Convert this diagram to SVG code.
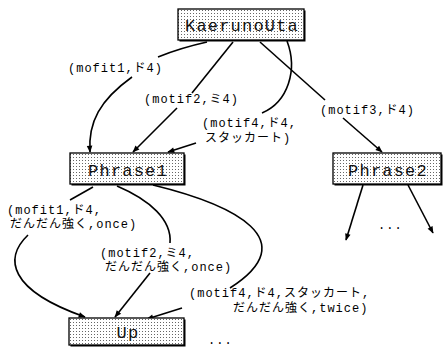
<svg xmlns="http://www.w3.org/2000/svg" width="443" height="353" viewBox="0 0 443 353">
  <style>
    .box { fill: url(#dots); stroke: #000; stroke-width: 1.3; }
    .shadow { fill: #000; }
    .name { font-family: "Liberation Mono", "Courier New", monospace; font-size: 17px; letter-spacing: 1.2px; fill: #111; text-anchor: middle; }
    .lbl { font-family: "Liberation Mono", "Noto Sans CJK JP", monospace; font-size: 12px; letter-spacing: 1px; fill: #000; }
    .edge { fill: none; stroke: #000; stroke-width: 1.6; }
  </style>
  <defs>
    <pattern id="dots" width="3" height="3" patternUnits="userSpaceOnUse">
      <rect width="3" height="3" fill="#fff"/>
      <rect x="1" y="1" width="1" height="1" fill="#666"/>
    </pattern>
    <marker id="arrow" viewBox="0 0 10 10" refX="9" refY="5" markerWidth="8" markerHeight="7" orient="auto" markerUnits="userSpaceOnUse">
      <path d="M0,1 L10,5 L0,9 Z" fill="#000"/>
    </marker>
  </defs>

  <rect width="443" height="353" fill="#fff"/>

  <!-- connectors -->
  <g id="connectors">
    <!-- KaerunoUta -> Phrase1 (mofit1) -->
    <path class="edge" d="M207,42 Q180,48 158,57"/>
    <path class="edge" d="M132,77 C100,100 88,122 90,152" marker-end="url(#arrow)"/>
    <!-- KaerunoUta -> Phrase1 (motif2) -->
    <path class="edge" d="M233,42 L192,93"/>
    <path class="edge" d="M177,108 L133,152" marker-end="url(#arrow)"/>
    <!-- KaerunoUta -> Phrase1 (motif4) -->
    <path class="edge" d="M287,41 C298,70 288,102 262,113"/>
    <path class="edge" d="M196,143 L168,152" marker-end="url(#arrow)"/>
    <!-- KaerunoUta -> Phrase2 (motif3) -->
    <path class="edge" d="M260,42 L325,100"/>
    <path class="edge" d="M343,118 L382,152" marker-end="url(#arrow)"/>
    <!-- Phrase1 -> Up (mofit1) -->
    <path class="edge" d="M93,187 L70,200"/>
    <path class="edge" d="M28,235 C4,258 8,290 85,317" marker-end="url(#arrow)"/>
    <!-- Phrase1 -> Up (motif2) -->
    <path class="edge" d="M117,186 C150,200 172,220 170,243"/>
    <path class="edge" d="M150,273 L115,317" marker-end="url(#arrow)"/>
    <!-- Phrase1 -> Up (motif4) -->
    <path class="edge" d="M153,185 C235,205 305,240 230,288"/>
    <path class="edge" d="M182,308 L147,319" marker-end="url(#arrow)"/>
    <!-- Phrase2 children -->
    <path class="edge" d="M363,185 L346,240" marker-end="url(#arrow)"/>
    <path class="edge" d="M408,185 L433,233" marker-end="url(#arrow)"/>
  </g>

  <!-- edge labels -->
  <g id="edge-labels">
    <text class="lbl" x="68" y="72">(mofit1,ド4)</text>
    <text class="lbl" x="144" y="103">(motif2,ミ4)</text>
    <text class="lbl" x="202" y="127">(motif4,ド4,</text>
    <text class="lbl" x="205" y="142">スタッカート)</text>
    <text class="lbl" x="320" y="114">(motif3,ド4)</text>
    <text class="lbl" x="7" y="214">(mofit1,ド4,</text>
    <text class="lbl" x="10" y="228">だんだん強く,once)</text>
    <text class="lbl" x="100" y="257">(motif2,ミ4,</text>
    <text class="lbl" x="105" y="271">だんだん強く,once)</text>
    <text class="lbl" x="189" y="297">(motif4,ド4,スタッカート,</text>
    <text class="lbl" x="233" y="312">だんだん強く,twice)</text>
    <text class="lbl" x="378" y="229">...</text>
    <text class="lbl" x="208" y="344">...</text>
  </g>

  <!-- nodes -->
  <g id="KaerunoUta">
    <rect class="shadow" x="179.5" y="10.5" width="126" height="31"/>
    <rect class="box" x="178" y="9" width="126" height="31"/>
    <text class="name" x="242" y="31">KaerunoUta</text>
  </g>
  <g id="Phrase1">
    <rect class="shadow" x="71.5" y="154.5" width="114" height="31"/>
    <rect class="box" x="70" y="153" width="114" height="31"/>
    <text class="name" x="128" y="176">Phrase1</text>
  </g>
  <g id="Phrase2">
    <rect class="shadow" x="334.5" y="154.5" width="108" height="31"/>
    <rect class="box" x="333" y="153" width="108" height="31"/>
    <text class="name" x="388" y="176">Phrase2</text>
  </g>
  <g id="Up">
    <rect class="shadow" x="70.5" y="319.5" width="115" height="27"/>
    <rect class="box" x="69" y="318" width="115" height="27"/>
    <text class="name" x="128" y="338">Up</text>
  </g>
</svg>
